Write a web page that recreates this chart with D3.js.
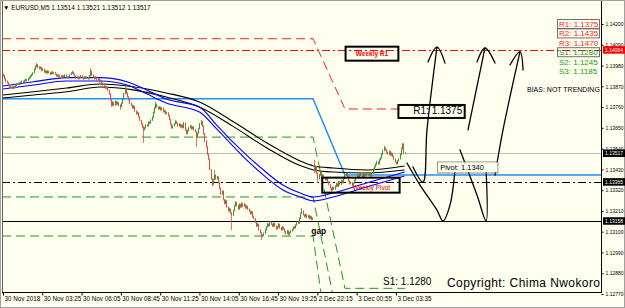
<!DOCTYPE html>
<html><head><meta charset="utf-8">
<script src="https://cdn.jsdelivr.net/npm/d3@7"></script>
<style>html,body{margin:0;padding:0;background:#fffff0;}svg{display:block;}</style>
</head><body>
<svg id="c" width="625" height="308"></svg>
<script>
// ---------------- DATA ----------------
const symbolTitle = "EURUSD,M5  1.13514 1.13521 1.13512 1.13517";
const open = [1.13930,1.13925,1.13910,1.13895,1.13890,1.13875,1.13865,1.13870,1.13860,1.13868,
1.13862,1.13875,1.13880,1.13885,1.13880,1.13890,1.13895,1.13890,1.13900,1.13905,
1.13900,1.13910,1.13915,1.13925,1.13930,1.13940,1.13960,1.13975,1.13985,1.13970,
1.13965,1.13970,1.13955,1.13960,1.13945,1.13950,1.13940,1.13950,1.13942,1.13935,
1.13945,1.13938,1.13942,1.13935,1.13925,1.13930,1.13920,1.13928,1.13918,1.13925,
1.13920,1.13930,1.13920,1.13915,1.13920,1.13930,1.13940,1.13945,1.13935,1.13925,
1.13915,1.13920,1.13910,1.13918,1.13925,1.13915,1.13910,1.13920,1.13912,1.13918,
1.13910,1.13925,1.13950,1.13930,1.13920,1.13910,1.13920,1.13905,1.13910,1.13895,
1.13900,1.13885,1.13880,1.13870,1.13860,1.13865,1.13850,1.13830,1.13800,1.13770,
1.13785,1.13770,1.13790,1.13775,1.13785,1.13770,1.13760,1.13780,1.13800,1.13830,
1.13860,1.13835,1.13815,1.13800,1.13780,1.13770,1.13755,1.13765,1.13740,1.13725,
1.13730,1.13710,1.13690,1.13670,1.13655,1.13640,1.13650,1.13665,1.13660,1.13680,
1.13675,1.13690,1.13705,1.13730,1.13755,1.13775,1.13760,1.13750,1.13760,1.13745,
1.13755,1.13735,1.13740,1.13725,1.13730,1.13715,1.13695,1.13670,1.13650,1.13660,
1.13670,1.13685,1.13675,1.13660,1.13670,1.13655,1.13665,1.13650,1.13675,1.13640,
1.13620,1.13635,1.13650,1.13660,1.13645,1.13655,1.13640,1.13630,1.13600,1.13620,
1.13645,1.13670,1.13685,1.13660,1.13620,1.13580,1.13550,1.13510,1.13485,1.13430,
1.13380,1.13350,1.13375,1.13400,1.13380,1.13390,1.13360,1.13330,1.13300,1.13315,
1.13270,1.13250,1.13265,1.13230,1.13210,1.13220,1.13200,1.13185,1.13210,1.13235,
1.13255,1.13240,1.13220,1.13245,1.13230,1.13250,1.13235,1.13245,1.13225,1.13235,
1.13220,1.13210,1.13195,1.13205,1.13180,1.13170,1.13150,1.13130,1.13140,1.13110,
1.13095,1.13075,1.13080,1.13090,1.13110,1.13125,1.13140,1.13130,1.13150,1.13140,
1.13130,1.13145,1.13130,1.13115,1.13125,1.13140,1.13120,1.13110,1.13125,1.13115,
1.13100,1.13090,1.13105,1.13085,1.13095,1.13105,1.13110,1.13125,1.13120,1.13135,
1.13150,1.13145,1.13170,1.13195,1.13210,1.13190,1.13180,1.13190,1.13175,1.13185,
1.13170,1.13180,1.13165,1.13460,1.13420,1.13445,1.13410,1.13380,1.13400,1.13415,
1.13390,1.13400,1.13385,1.13375,1.13385,1.13365,1.13350,1.13330,1.13320,1.13335,
1.13325,1.13340,1.13355,1.13340,1.13365,1.13350,1.13370,1.13360,1.13380,1.13400,
1.13410,1.13395,1.13370,1.13355,1.13360,1.13345,1.13355,1.13370,1.13385,1.13400,
1.13390,1.13410,1.13400,1.13390,1.13405,1.13395,1.13405,1.13410,1.13400,1.13405,
1.13395,1.13410,1.13430,1.13445,1.13455,1.13470,1.13460,1.13480,1.13490,1.13510,
1.13530,1.13545,1.13535,1.13520,1.13510,1.13525,1.13505,1.13515,1.13500,1.13485,
1.13470,1.13460,1.13475,1.13485,1.13510,1.13540,1.13565,1.13514];
const close = [1.13925,1.13910,1.13895,1.13890,1.13875,1.13865,1.13870,1.13860,1.13868,1.13862,
1.13875,1.13880,1.13885,1.13880,1.13890,1.13895,1.13890,1.13900,1.13905,1.13900,
1.13910,1.13915,1.13925,1.13930,1.13940,1.13960,1.13975,1.13985,1.13970,1.13965,
1.13970,1.13955,1.13960,1.13945,1.13950,1.13940,1.13950,1.13942,1.13935,1.13945,
1.13938,1.13942,1.13935,1.13925,1.13930,1.13920,1.13928,1.13918,1.13925,1.13920,
1.13930,1.13920,1.13915,1.13920,1.13930,1.13940,1.13945,1.13935,1.13925,1.13915,
1.13920,1.13910,1.13918,1.13925,1.13915,1.13910,1.13920,1.13912,1.13918,1.13910,
1.13925,1.13950,1.13930,1.13920,1.13910,1.13920,1.13905,1.13910,1.13895,1.13900,
1.13885,1.13880,1.13870,1.13860,1.13865,1.13850,1.13830,1.13800,1.13770,1.13785,
1.13770,1.13790,1.13775,1.13785,1.13770,1.13760,1.13780,1.13800,1.13830,1.13860,
1.13835,1.13815,1.13800,1.13780,1.13770,1.13755,1.13765,1.13740,1.13725,1.13730,
1.13710,1.13690,1.13670,1.13655,1.13640,1.13650,1.13665,1.13660,1.13680,1.13675,
1.13690,1.13705,1.13730,1.13755,1.13775,1.13760,1.13750,1.13760,1.13745,1.13755,
1.13735,1.13740,1.13725,1.13730,1.13715,1.13695,1.13670,1.13650,1.13660,1.13670,
1.13685,1.13675,1.13660,1.13670,1.13655,1.13665,1.13650,1.13675,1.13640,1.13620,
1.13635,1.13650,1.13660,1.13645,1.13655,1.13640,1.13630,1.13600,1.13620,1.13645,
1.13670,1.13685,1.13660,1.13620,1.13580,1.13550,1.13510,1.13485,1.13430,1.13380,
1.13350,1.13375,1.13400,1.13380,1.13390,1.13360,1.13330,1.13300,1.13315,1.13270,
1.13250,1.13265,1.13230,1.13210,1.13220,1.13200,1.13185,1.13210,1.13235,1.13255,
1.13240,1.13220,1.13245,1.13230,1.13250,1.13235,1.13245,1.13225,1.13235,1.13220,
1.13210,1.13195,1.13205,1.13180,1.13170,1.13150,1.13130,1.13140,1.13110,1.13095,
1.13075,1.13080,1.13090,1.13110,1.13125,1.13140,1.13130,1.13150,1.13140,1.13130,
1.13145,1.13130,1.13115,1.13125,1.13140,1.13120,1.13110,1.13125,1.13115,1.13100,
1.13090,1.13105,1.13085,1.13095,1.13105,1.13110,1.13125,1.13120,1.13135,1.13150,
1.13145,1.13170,1.13195,1.13210,1.13190,1.13180,1.13190,1.13175,1.13185,1.13170,
1.13180,1.13165,1.13170,1.13420,1.13445,1.13410,1.13380,1.13400,1.13415,1.13390,
1.13400,1.13385,1.13375,1.13385,1.13365,1.13350,1.13330,1.13320,1.13335,1.13325,
1.13340,1.13355,1.13340,1.13365,1.13350,1.13370,1.13360,1.13380,1.13400,1.13410,
1.13395,1.13370,1.13355,1.13360,1.13345,1.13355,1.13370,1.13385,1.13400,1.13390,
1.13410,1.13400,1.13390,1.13405,1.13395,1.13405,1.13410,1.13400,1.13405,1.13395,
1.13410,1.13430,1.13445,1.13455,1.13470,1.13460,1.13480,1.13490,1.13510,1.13530,
1.13545,1.13535,1.13520,1.13510,1.13525,1.13505,1.13515,1.13500,1.13485,1.13470,
1.13460,1.13475,1.13485,1.13510,1.13540,1.13565,1.13514,1.13517];
const high = [1.13938,1.13930,1.13914,1.13902,1.13893,1.13880,1.13876,1.13874,1.13873,1.13872,
1.13880,1.13886,1.13890,1.13892,1.13895,1.13902,1.13900,1.13906,1.13912,1.13910,
1.13916,1.13922,1.13930,1.13938,1.13946,1.13965,1.13982,1.13993,1.13988,1.13978,
1.13976,1.13973,1.13968,1.13963,1.13956,1.13954,1.13956,1.13953,1.13946,1.13950,
1.13949,1.13948,1.13945,1.13938,1.13936,1.13933,1.13933,1.13930,1.13930,1.13929,
1.13935,1.13933,1.13924,1.13925,1.13936,1.13946,1.13952,1.13948,1.13938,1.13928,
1.13926,1.13923,1.13923,1.13930,1.13928,1.13919,1.13925,1.13923,1.13924,1.13920,
1.13930,1.13967,1.13954,1.13934,1.13923,1.13926,1.13922,1.13916,1.13913,1.13906,
1.13902,1.13890,1.13884,1.13873,1.13872,1.13868,1.13853,1.13833,1.13804,1.13792,
1.13788,1.13796,1.13793,1.13790,1.13788,1.13775,1.13785,1.13806,1.13836,1.13877,
1.13864,1.13838,1.13818,1.13803,1.13784,1.13773,1.13770,1.13768,1.13743,1.13736,
1.13733,1.13714,1.13693,1.13674,1.13660,1.13656,1.13670,1.13670,1.13686,1.13685,
1.13696,1.13710,1.13736,1.13760,1.13790,1.13780,1.13764,1.13766,1.13763,1.13760,
1.13758,1.13746,1.13743,1.13736,1.13733,1.13718,1.13698,1.13673,1.13666,1.13676,
1.13692,1.13688,1.13678,1.13675,1.13673,1.13670,1.13668,1.13682,1.13678,1.13643,
1.13640,1.13656,1.13666,1.13663,1.13660,1.13658,1.13644,1.13633,1.13626,1.13650,
1.13676,1.13692,1.13688,1.13663,1.13623,1.13584,1.13553,1.13514,1.13488,1.13433,
1.13384,1.13380,1.13427,1.13404,1.13396,1.13393,1.13363,1.13334,1.13320,1.13318,
1.13273,1.13270,1.13268,1.13234,1.13226,1.13223,1.13204,1.13216,1.13240,1.13262,
1.13258,1.13243,1.13250,1.13248,1.13256,1.13253,1.13250,1.13248,1.13240,1.13238,
1.13224,1.13213,1.13210,1.13208,1.13184,1.13173,1.13153,1.13146,1.13143,1.13113,
1.13098,1.13086,1.13096,1.13116,1.13130,1.13146,1.13144,1.13156,1.13154,1.13143,
1.13150,1.13148,1.13133,1.13130,1.13146,1.13143,1.13124,1.13130,1.13128,1.13118,
1.13104,1.13110,1.13108,1.13100,1.13110,1.13116,1.13130,1.13130,1.13140,1.13156,
1.13155,1.13176,1.13200,1.13226,1.13213,1.13194,1.13196,1.13193,1.13190,1.13188,
1.13186,1.13183,1.13176,1.13480,1.13450,1.13448,1.13413,1.13406,1.13420,1.13418,
1.13406,1.13403,1.13388,1.13390,1.13388,1.13368,1.13353,1.13334,1.13340,1.13338,
1.13346,1.13360,1.13358,1.13370,1.13368,1.13376,1.13373,1.13386,1.13406,1.13418,
1.13413,1.13398,1.13373,1.13366,1.13363,1.13360,1.13376,1.13390,1.13406,1.13403,
1.13416,1.13413,1.13403,1.13410,1.13408,1.13410,1.13416,1.13413,1.13410,1.13408,
1.13416,1.13436,1.13450,1.13462,1.13476,1.13473,1.13486,1.13496,1.13516,1.13536,
1.13555,1.13548,1.13538,1.13523,1.13530,1.13528,1.13520,1.13518,1.13503,1.13488,
1.13473,1.13480,1.13490,1.13516,1.13546,1.13570,1.13568,1.13521];
const low = [1.13920,1.13906,1.13890,1.13884,1.13870,1.13858,1.13860,1.13855,1.13856,1.13856,
1.13860,1.13870,1.13876,1.13875,1.13878,1.13886,1.13885,1.13888,1.13896,1.13894,
1.13898,1.13906,1.13912,1.13920,1.13928,1.13938,1.13956,1.13970,1.13965,1.13958,
1.13960,1.13950,1.13950,1.13940,1.13940,1.13935,1.13938,1.13938,1.13930,1.13932,
1.13934,1.13934,1.13930,1.13920,1.13922,1.13916,1.13917,1.13913,1.13915,1.13915,
1.13918,1.13916,1.13910,1.13911,1.13918,1.13928,1.13936,1.13930,1.13920,1.13910,
1.13912,1.13905,1.13907,1.13915,1.13910,1.13904,1.13908,1.13908,1.13909,1.13904,
1.13908,1.13922,1.13926,1.13915,1.13904,1.13908,1.13900,1.13900,1.13890,1.13890,
1.13880,1.13874,1.13865,1.13855,1.13856,1.13845,1.13825,1.13795,1.13760,1.13765,
1.13764,1.13768,1.13770,1.13770,1.13765,1.13745,1.13758,1.13776,1.13798,1.13826,
1.13830,1.13810,1.13795,1.13775,1.13765,1.13750,1.13750,1.13735,1.13720,1.13720,
1.13705,1.13685,1.13665,1.13650,1.13570,1.13635,1.13646,1.13655,1.13658,1.13670,
1.13672,1.13686,1.13702,1.13726,1.13752,1.13755,1.13745,1.13746,1.13740,1.13742,
1.13730,1.13730,1.13720,1.13720,1.13710,1.13690,1.13665,1.13645,1.13646,1.13656,
1.13668,1.13670,1.13655,1.13656,1.13650,1.13650,1.13645,1.13648,1.13635,1.13615,
1.13616,1.13632,1.13646,1.13640,1.13642,1.13635,1.13625,1.13549,1.13596,1.13618,
1.13642,1.13666,1.13655,1.13615,1.13575,1.13545,1.13505,1.13480,1.13425,1.13375,
1.13340,1.13346,1.13372,1.13375,1.13376,1.13355,1.13325,1.13295,1.13296,1.13265,
1.13245,1.13246,1.13225,1.13205,1.13206,1.13195,1.13109,1.13182,1.13208,1.13232,
1.13235,1.13215,1.13218,1.13225,1.13228,1.13230,1.13232,1.13220,1.13222,1.13215,
1.13205,1.13190,1.13192,1.13175,1.13165,1.13145,1.13125,1.13126,1.13105,1.13090,
1.13056,1.13070,1.13076,1.13088,1.13106,1.13122,1.13125,1.13128,1.13135,1.13125,
1.13126,1.13125,1.13110,1.13112,1.13122,1.13115,1.13105,1.13106,1.13110,1.13095,
1.13085,1.13086,1.13080,1.13082,1.13092,1.13100,1.13106,1.13115,1.13116,1.13132,
1.13140,1.13142,1.13166,1.13192,1.13185,1.13175,1.13176,1.13170,1.13172,1.13165,
1.13166,1.13160,1.13162,1.13410,1.13416,1.13405,1.13358,1.13376,1.13396,1.13385,
1.13386,1.13380,1.13370,1.13372,1.13360,1.13345,1.13325,1.13310,1.13316,1.13320,
1.13322,1.13336,1.13335,1.13338,1.13345,1.13346,1.13355,1.13356,1.13376,1.13396,
1.13390,1.13365,1.13350,1.13350,1.13340,1.13342,1.13352,1.13366,1.13382,1.13385,
1.13386,1.13395,1.13385,1.13386,1.13390,1.13392,1.13402,1.13395,1.13396,1.13390,
1.13392,1.13406,1.13426,1.13440,1.13452,1.13455,1.13456,1.13476,1.13486,1.13506,
1.13526,1.13530,1.13515,1.13505,1.13506,1.13500,1.13502,1.13495,1.13480,1.13465,
1.13455,1.13456,1.13472,1.13482,1.13506,1.13536,1.13510,1.13512];

// time axis labels (bar index -> label)
const timeTickIdx = [0,32,64,96,128,160,192,224,256,288,320];
const timeTickLabels = ["30 Nov 2018","30 Nov 03:25","30 Nov 06:05","30 Nov 08:45","30 Nov 11:25","30 Nov 14:05","30 Nov 16:45","30 Nov 19:25","2 Dec 22:15","3 Dec 00:55","3 Dec 03:35"];
// price axis ticks
const priceTicks = [1.14200,1.14090,1.13980,1.13870,1.13760,1.13650,1.13540,1.13430,1.13320,1.13210,1.13100,1.12990,1.12880,1.12770];

// moving average envelopes (sampled along bars)
const blueIdx = [0,25,52,79,101,117,133,160,174,188,201,215,228,242,253,269,296,327];
const blueUpper = [1.13872,1.13894,1.13916,1.13916,1.13894,1.13851,1.13803,1.13760,1.13665,1.13570,1.13490,1.13411,1.13347,1.13305,1.13284,1.13305,1.13358,1.13416];
const blueLower = [1.13856,1.13877,1.13898,1.13898,1.13877,1.13830,1.13782,1.13734,1.13644,1.13549,1.13464,1.13384,1.13321,1.13284,1.13263,1.13284,1.13337,1.13395];
const blackIdx = [0,25,52,79,106,133,160,188,215,242,253,269,296,327];
const blackUpper = [1.13824,1.13841,1.13861,1.13882,1.13868,1.13835,1.13787,1.13681,1.13570,1.13475,1.13448,1.13437,1.13427,1.13448];
const blackLower = [1.13808,1.13824,1.13841,1.13866,1.13851,1.13813,1.13760,1.13655,1.13543,1.13450,1.13427,1.13416,1.13411,1.13427];

// daily pivot levels: previous day -> new day
const levelNames = ["R1","P","S1","S2","S3"];
const prevLevel = [1.14122,1.13804,1.13601,1.13284,1.13077];
const newLevel  = [1.1375,1.1340,1.1280,1.1245,1.1185];
const dayBreakIdx = 252.5, levelSwitchIdx = 278.5, lastBarIdx = 327.5;
// weekly / other levels
const weeklyR1 = 1.14064, weeklyPivot = 1.13365, supportLine = 1.13158, bidPrice = 1.13517;
// pivot panel
const panelNames = ["R1","R2","R3","S1","S2","S3"];
const panelValues = ["1.1375","1.1435","1.1470","1.1280","1.1245","1.1185"];
const pivotText = "1.1340";

// hand-drawn scenario strokes [barIndex, price]
const strokes = [
  [[329.0,1.13464],[339.6,1.13347],[353.4,1.13215],[358.3,1.13157],[364.0,1.13241],[368.1,1.13427]],
  [[333.9,1.13443],[342.0,1.13363],[345.3,1.13639],[353.4,1.14078]],
  [[346.1,1.13999],[353.4,1.14078],[360.0,1.13993]],
  [[372.2,1.13533],[386.0,1.13294],[393.4,1.13157],[393.4,1.13427]],
  [[378.7,1.13639],[392.5,1.14073]],
  [[386.0,1.13999],[392.5,1.14073],[400.7,1.13993]],
  [[400.7,1.13400],[407.2,1.13639],[421.0,1.14052]],
  [[412.9,1.13983],[421.0,1.14052],[423.5,1.13956]]
];

// ---------------- DRAW ----------------
const svg = d3.select("#c");
const W = 625, H = 308;
const L = 2, R = 601, T = 1, B = 292;
const x = d3.scaleLinear().domain([-0.8, 487]).range([2, 601]);
const y = d3.scaleLinear().domain([1.142, 1.1277]).range([24, 294]);
const bg = "#fffff0";
svg.append("rect").attr("width", W).attr("height", H).attr("fill", bg);

svg.append("defs").append("clipPath").attr("id","plot")
  .append("rect").attr("x", L).attr("y", T).attr("width", R-L).attr("height", B-T);
const g = svg.append("g").attr("clip-path","url(#plot)");

const hline = (p, x0, x1, color, dash, w) => g.append("line")
  .attr("x1", x(x0)).attr("x2", x(x1)).attr("y1", Math.round(y(p))+0.5).attr("y2", Math.round(y(p))+0.5)
  .attr("stroke", color).attr("stroke-width", w||1).attr("stroke-dasharray", dash||null);

const xmin = -0.8, xmax = 487;
hline(bidPrice, xmin, xmax, "#c0c0c0");
hline(weeklyR1, xmin, xmax, "#ff0000", "8,3,2,3");
hline(weeklyPivot, xmin, xmax, "#000", "8,3,2,3");
hline(supportLine, xmin, xmax, "#000", null, 1.2);

// daily levels
const levelColor = ["#ff2020","#1e90ff","#1a9a1a","#1a9a1a","#1a9a1a"];
const levelDash = ["9,5",null,"9,5","9,5","9,5"];
const levelEnd = [lastBarIdx, xmax, lastBarIdx, lastBarIdx, lastBarIdx];
levelNames.forEach((nm, k) => {
  const pts = [[xmin, prevLevel[k]],[dayBreakIdx, prevLevel[k]],[levelSwitchIdx, newLevel[k]],[levelEnd[k], newLevel[k]]];
  g.append("path").attr("d", d3.line().x(d=>x(d[0])).y(d=>y(d[1]))(pts))
    .attr("fill","none").attr("stroke", levelColor[k]).attr("stroke-width", nm==="P"?1.5:1)
    .attr("stroke-dasharray", levelDash[k]);
});

// MA envelopes
const maLine = (idx, vals, color) => g.append("path")
  .attr("d", d3.line().curve(d3.curveMonotoneX).x((d,i)=>x(idx[i])).y(d=>y(d))(vals))
  .attr("fill","none").attr("stroke", color).attr("stroke-width", 1.1);
maLine(blackIdx, blackUpper, "#000"); maLine(blackIdx, blackLower, "#000");
maLine(blueIdx, blueUpper, "#0000ff"); maLine(blueIdx, blueLower, "#0000ff");

// candles
const upC = "#2c9c2c", dnC = "#ee4444";
const cg = g.append("g");
close.forEach((c, i) => {
  const o = open[i], xi = Math.round(x(i)) + 0.5;
  const col = c >= o ? upC : dnC;
  cg.append("line").attr("x1", xi).attr("x2", xi)
    .attr("y1", y(high[i])).attr("y2", y(low[i])).attr("stroke", col).attr("stroke-width", 1).attr("opacity", 0.75);
  const yt = y(Math.max(o,c)), yb = y(Math.min(o,c));
  cg.append("rect").attr("x", xi-0.5).attr("width", 1).attr("y", yt).attr("height", Math.max(1, yb-yt)).attr("fill", col);
});

// hand drawn strokes
strokes.forEach(s => g.append("path")
  .attr("d", d3.line().curve(d3.curveCatmullRom).x(d=>x(d[0])).y(d=>y(d[1]))(s))
  .attr("fill","none").attr("stroke","#000").attr("stroke-width",1.3).attr("stroke-linejoin","round").attr("stroke-linecap","round"));

// boxes / annotations tied to levels
const font = "Liberation Sans, Arial, sans-serif";
function box(xc0, xc1, p, hUp, hDn, sw, stroke){
  return svg.append("rect").attr("x", x(xc0)).attr("width", x(xc1)-x(xc0))
    .attr("y", y(p)-hUp).attr("height", hUp+hDn).attr("fill","none").attr("stroke", stroke||"#000").attr("stroke-width", sw);
}
box(279, 322, weeklyR1, 3, 11, 2);
svg.append("text").attr("x", (x(279)+x(322))/2).attr("y", y(weeklyR1)+6.5).attr("text-anchor","middle")
  .attr("font-family", font).attr("font-size", 6.5).attr("font-weight","bold").attr("fill","#ff0000").text("Weekly R1");
box(322, 376, newLevel[0], 4, 9, 2);
svg.append("text").attr("x", x(374)).attr("y", y(newLevel[0])+5).attr("text-anchor","end")
  .attr("font-family", font).attr("font-size", 10).attr("fill","#000").text("R1: " + panelValues[0]);
box(260, 323, weeklyPivot, 4, 11, 2);
svg.append("text").attr("x", x(300)).attr("y", y(weeklyPivot)+8).attr("text-anchor","middle")
  .attr("font-family", font).attr("font-size", 6.5).attr("fill","#dd0000").text("Weekly Pivot");
box(354, 403, newLevel[1], 13, -2, 1, "#808080");
svg.append("rect").attr("x", x(354)+0.5).attr("y", y(newLevel[1])-12.5).attr("width", x(403)-x(354)-1).attr("height", 9.5).attr("fill", bg);
svg.append("text").attr("x", x(356)).attr("y", y(newLevel[1])-5).attr("font-family", font).attr("font-size", 7.5).attr("fill","#000").text("Pivot: " + pivotText);

svg.append("text").attr("x", x(251)).attr("y", 234).attr("font-family", font).attr("font-size", 8.5).attr("font-weight","bold").text("gap");
svg.append("text").attr("x", x(309.5)).attr("y", y(newLevel[2])-3).attr("font-family", font).attr("font-size", 10).attr("fill","#000").text("S1: " + panelValues[3]);
svg.append("text").attr("x", 447).attr("y", 287).attr("font-family", font).attr("font-size", 12).attr("textLength", 153).attr("fill","#000").text("Copyright: Chima Nwokoro");

// panel top right
panelNames.forEach((nm, i) => {
  const yy = 27 + i*9.4;
  if (i===0 || i===1 || i===3) svg.append("rect").attr("x", 557.5).attr("y", yy-7.5).attr("width", 42).attr("height", 9).attr("fill","none").attr("stroke","#707070").attr("stroke-width",1);
  svg.append("text").attr("x", 559).attr("y", yy).attr("font-family", font).attr("font-size", 8)
    .attr("fill", i < 3 ? "#ff2020" : "#1a9a1a").text(nm + ": " + panelValues[i]);
});
svg.append("text").attr("x", 527).attr("y", 92).attr("font-family", font).attr("font-size", 7).attr("fill","#000").text("BIAS: NOT TRENDING");

// frame
svg.append("line").attr("x1", L+0.5).attr("x2", L+0.5).attr("y1", 0).attr("y2", B+0.5).attr("stroke","#606060");
svg.append("line").attr("x1", R+0.5).attr("x2", R+0.5).attr("y1", 0).attr("y2", B+0.5).attr("stroke","#000");
svg.append("line").attr("x1", L).attr("x2", R+1).attr("y1", B+0.5).attr("y2", B+0.5).attr("stroke","#000");
svg.append("rect").attr("x", 0.5).attr("y", 0.5).attr("width", W-1).attr("height", H-1).attr("fill","none").attr("stroke","#a0a0a0");

// title
svg.append("text").attr("x", 3).attr("y", 10).attr("font-family", font).attr("font-size", 6.5).attr("fill","#000").text("\u25BC " + symbolTitle);

// price axis
const ya = svg.append("g").attr("transform", `translate(${R+0.5},0)`)
  .call(d3.axisRight(y).tickValues(priceTicks).tickSize(2).tickFormat(d3.format(".5f")));
ya.select(".domain").remove();
ya.selectAll("text").attr("font-family", font).attr("font-size", 5.4).attr("fill","#000").attr("x", 4).attr("textLength", 18).attr("lengthAdjust","spacingAndGlyphs");
ya.selectAll("line").attr("stroke","#000");
function priceTag(p, fillC){
  const yy = y(p);
  svg.append("rect").attr("x", R+2).attr("y", yy-3.5).attr("width", 22).attr("height", 7.5).attr("fill", fillC);
  svg.append("text").attr("x", R+4).attr("y", yy+2.2).attr("font-family", font).attr("font-size", 5.6)
    .attr("textLength", 18).attr("lengthAdjust","spacingAndGlyphs").attr("fill","#fff").text(d3.format(".5f")(p));
}
priceTag(weeklyR1, "#ff0000");
priceTag(bidPrice, "#000");
priceTag(weeklyPivot, "#000");
priceTag(supportLine, "#000");

// time axis
const xa = svg.append("g").attr("transform", `translate(0,${B+0.5})`)
  .call(d3.axisBottom(x).tickValues(timeTickIdx).tickSize(3).tickFormat((d,i)=>timeTickLabels[i]));
xa.select(".domain").remove();
xa.selectAll("text").attr("font-family", font).attr("font-size", 6.3).attr("fill","#000").attr("text-anchor","start").attr("x", 1).attr("y", 4);
xa.selectAll("line").attr("stroke","#000");
</script>
</body></html>
